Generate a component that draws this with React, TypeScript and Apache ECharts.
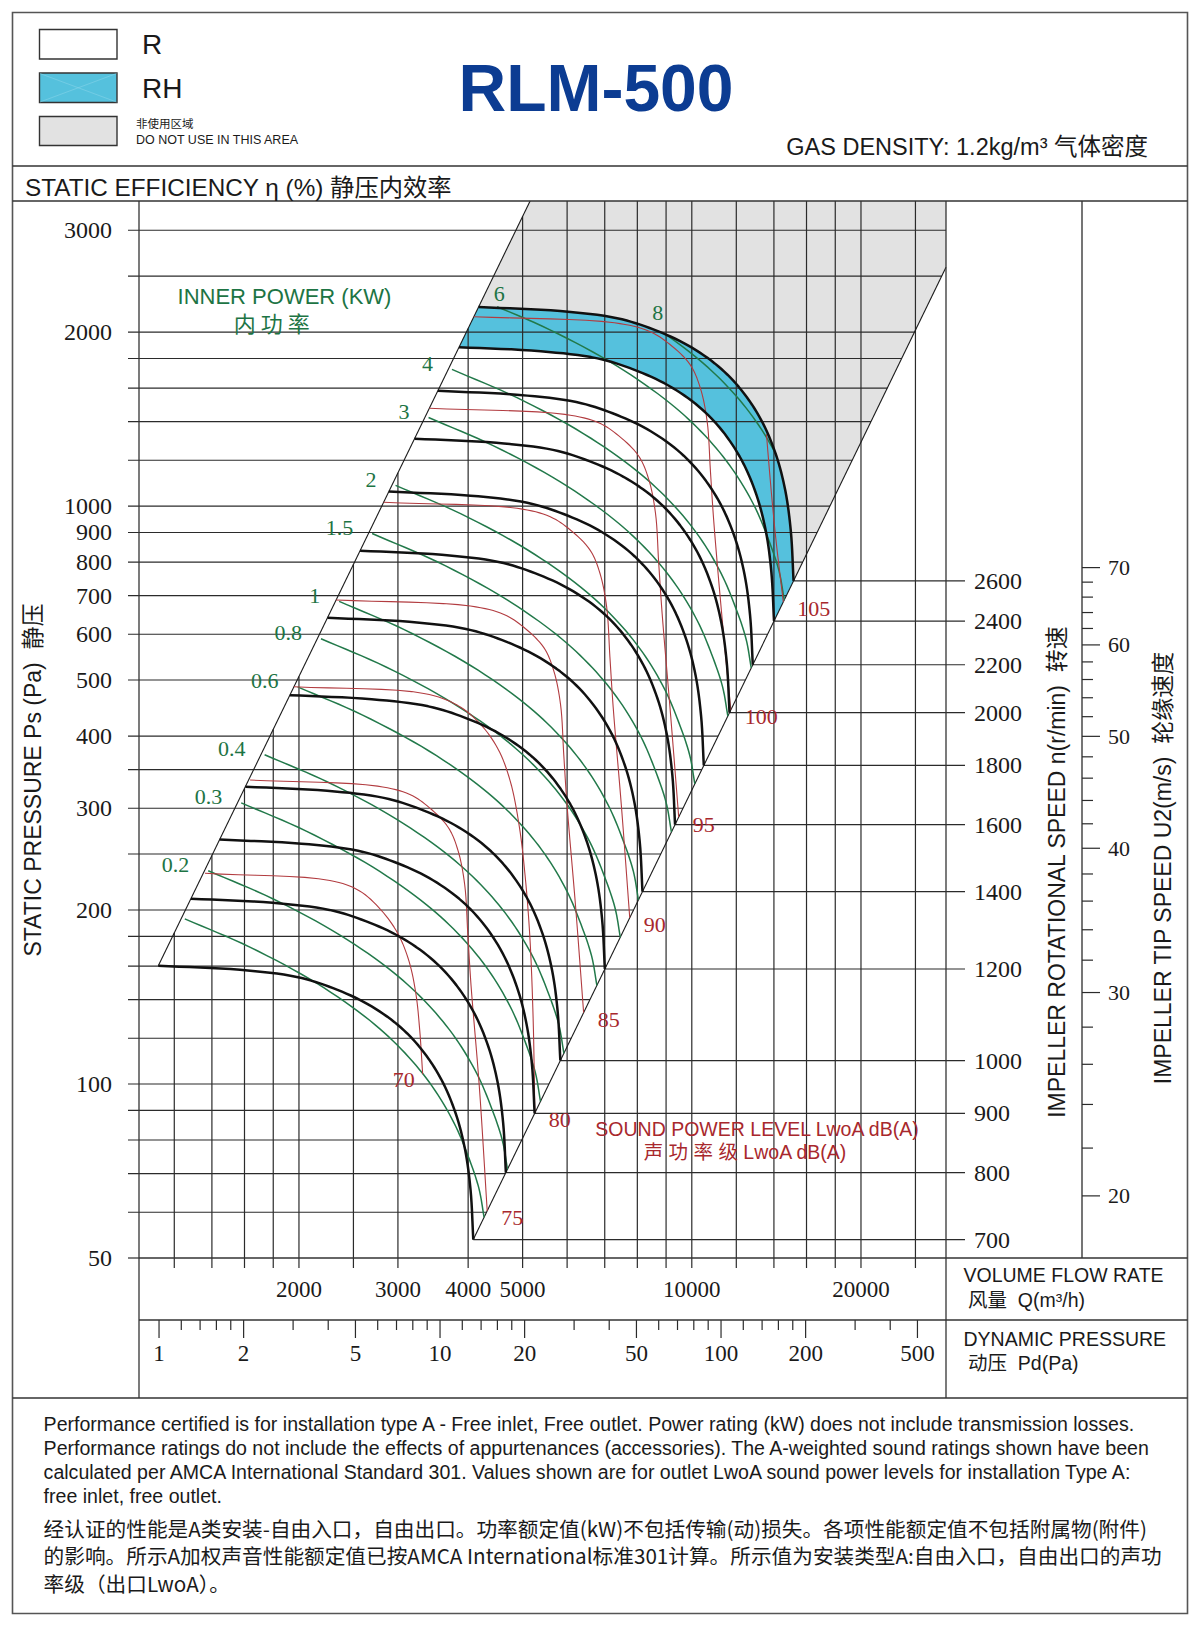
import React, { useEffect, useRef } from "react";
import * as echarts from "echarts";

// ---------- axis extents ----------
const flowRange = [1038.5, 28334]; // volume flow Q, m³/h
const pressureRange = [50, 3371]; // static pressure Ps, Pa
const dynamicRange = [0.8486, 631.8]; // dynamic pressure Pd, Pa
const tipSpeedRange = [17.67, 145.4]; // impeller tip speed U2, m/s

// ---------- grid lines and tick values ----------
const flowGrid = [1200, 1400, 1600, 1800, 2000, 2500, 3000, 4000, 5000, 6000, 7000, 8000, 9000, 10000, 12000, 14000, 16000, 18000, 20000, 25000];
const flowLabels = [2000, 3000, 4000, 5000, 10000, 20000];
const pressureGrid = [60, 70, 80, 90, 100, 120, 140, 160, 180, 200, 250, 300, 350, 400, 500, 600, 700, 800, 900, 1000, 1200, 1400, 1600, 1800, 2000, 2500, 3000];
const pressureLabels = [50, 100, 200, 300, 400, 500, 600, 700, 800, 900, 1000, 2000, 3000];
const dynamicTicks = [1, 1.2, 1.4, 1.6, 1.8, 2, 3, 4, 5, 6, 7, 8, 9, 10, 12, 14, 16, 18, 20, 30, 40, 50, 60, 70, 80, 90, 100, 120, 140, 160, 180, 200, 300, 400, 500];
const dynamicLabels = [1, 2, 5, 10, 20, 50, 100, 200, 500];
const tipSpeedTicks = [20, 22, 24, 26, 28, 30, 32, 34, 36, 38, 40, 42, 44, 46, 48, 50, 52, 54, 56, 58, 60, 62, 64, 66, 68, 70];
const tipSpeedLabels = [20, 30, 40, 50, 60, 70];

// ---------- fan curves (Q m³/h, Ps Pa) ----------
const referenceSpeed = 700; // r/min
const referenceCurve = [[1124, 160.2], [1571, 157.6], [1982, 153.2], [2300, 146.5], [2650, 137.5], [3000, 126.5], [3300, 115], [3580, 102], [3800, 89], [3950, 77], [4040, 65.5], [4085, 53.8]];
const speeds = [700, 800, 900, 1000, 1200, 1400, 1600, 1800, 2000, 2200, 2400, 2600];
const rhSpeeds = [2400, 2600];

// ---------- inner power lines ----------
const referencePower = 0.2; // kW
const referencePowerLine = [[1379, 233.9], [1800, 209], [2366, 181], [2944, 156], [3400, 137], [3800, 120], [4150, 104], [4400, 91], [4600, 80], [4700, 71.2]];
const powerLevels = [0.15, 0.2, 0.3, 0.4, 0.6, 0.8, 1, 1.5, 2, 3, 4, 6, 8];
const powerLabelled = [0.2, 0.3, 0.4, 0.6, 0.8, 1, 1.5, 2, 3, 4, 6, 8];

// ---------- sound power level lines LwoA dB(A) ----------
const soundLevels = [70, 75, 80, 85, 90, 95, 100, 105];
const sound70 = [[1361, 231.5], [2270, 225], [2560, 216], [2800, 200], [3000, 182], [3140, 163], [3230, 143], [3280, 124], [3320, 104]];
const sound75 = [[1637, 335.7], [2760, 327.6], [3150, 316.9], [3411, 300.8], [3690, 277.6], [3839, 253.1], [3944, 221.2], [3995, 181.3], [4047, 148.4], [4186, 99.4], [4325, 60.3]];
const sound80 = [[1959, 486.8], [3336, 474], [3830, 452], [4200, 420], [4520, 380], [4750, 335], [4930, 280], [5050, 230], [5150, 180], [5220, 130], [5257, 89.1]];
const sound85 = [[2329, 687.8], [4038, 671.3], [4632, 649.3], [5030, 616.3], [5455, 568.8], [5681, 518.6], [5841, 453.3], [5918, 371.4], [5998, 304], [6210, 203.6], [6420, 132.9]];
const sound90 = [[2829, 1014.9], [4887, 991], [5600, 958], [6080, 909], [6592, 839], [6864, 765], [7055, 669], [7150, 548], [7246, 449], [7500, 300], [7755, 193.9]];
const sound95 = [[3412, 1476], [5945, 1440.6], [6827, 1393.3], [7416, 1322.5], [8043, 1220.7], [8381, 1112.9], [8617, 972.7], [8732, 797], [8855, 652.4], [9165, 436.9], [9478, 289.6]];
const sound100 = [[4095, 2126], [7284, 2075], [8394, 2007], [9134, 1905], [9925, 1758], [10350, 1603], [10649, 1401], [10794, 1148], [10943, 939.7], [11338, 629.3], [11733, 443.8]];
const sound105 = [[4929, 3080], [8946, 3006], [10345, 2908], [11278, 2760], [12278, 2547], [12809, 2322], [13185, 2030], [13367, 1663], [13555, 1361], [14053, 911.7], [14548, 682.3]];
const soundLines = [sound70, sound75, sound80, sound85, sound90, sound95, sound100, sound105];

// ---------- notes ----------
const notesEn = [
  "Performance certified is for installation type A - Free inlet, Free outlet. Power rating (kW) does not include transmission losses.",
  "Performance ratings do not include the effects of appurtenances (accessories). The A-weighted sound ratings shown have been",
  "calculated per AMCA International Standard 301. Values shown are for outlet LwoA sound power levels for installation Type A:",
  "free inlet, free outlet.",
];
const notesCn = [
  "经认证的性能是A类安装-自由入口，自由出口。功率额定值(kW)不包括传输(动)损失。各项性能额定值不包括附属物(附件)",
  "的影响。所示A加权声音性能额定值已按AMCA International标准301计算。所示值为安装类型A:自由入口，自由出口的声功",
  "率级（出口LwoA）。",
];

// ---------- styling ----------
const SERIF = '"Liberation Serif", "Times New Roman", serif';
const SANS = '"Liberation Sans", Arial, "Noto Sans CJK SC", sans-serif';
const CJK = '"Noto Sans CJK SC", "Liberation Sans", sans-serif';
const INK = "#1a1a1a";
const GRID = "#2b2b2b";
const GREEN = "#22794a";
const GREEN_TEXT = "#1d7444";
const RED = "#b23c40";
const RED_TEXT = "#a8282d";
const CYAN = "#55c1dd";
const GREY = "#e2e2e2";
const TITLE_BLUE = "#0c3c92";

// fan laws: Q ∝ n, Ps ∝ n²
const fanScale = (curve: number[][], k: number) => curve.map(([q, p]) => [q * k, p * k * k]);
const speedCurves = speeds.map((n) => fanScale(referenceCurve, n / referenceSpeed));
// inner power ∝ n³
const powerLines = powerLevels.map((w) => fanScale(referencePowerLine, Math.cbrt(w / referencePower)));

// centripetal Catmull-Rom through pixel points
function spline(pts: number[][], steps = 8): number[][] {
  const n = pts.length;
  if (n < 3) return pts.map((p) => [p[0], p[1]]);
  const get = (i: number) => {
    if (i < 0) return [2 * pts[0][0] - pts[1][0], 2 * pts[0][1] - pts[1][1]];
    if (i >= n) return [2 * pts[n - 1][0] - pts[n - 2][0], 2 * pts[n - 1][1] - pts[n - 2][1]];
    return pts[i];
  };
  const nextT = (t: number, a: number[], b: number[]) => t + Math.max(1e-3, Math.sqrt(Math.hypot(b[0] - a[0], b[1] - a[1])));
  const out: number[][] = [];
  for (let i = 0; i < n - 1; i++) {
    const p0 = get(i - 1), p1 = get(i), p2 = get(i + 1), p3 = get(i + 2);
    const t0 = 0, t1 = nextT(t0, p0, p1), t2 = nextT(t1, p1, p2), t3 = nextT(t2, p2, p3);
    for (let s = 0; s < steps; s++) {
      const t = t1 + ((t2 - t1) * s) / steps;
      const mix = (a: number[], b: number[], ta: number, tb: number) => [
        ((tb - t) * a[0] + (t - ta) * b[0]) / (tb - ta),
        ((tb - t) * a[1] + (t - ta) * b[1]) / (tb - ta),
      ];
      const a1 = mix(p0, p1, t0, t1), a2 = mix(p1, p2, t1, t2), a3 = mix(p2, p3, t2, t3);
      const b1 = mix(a1, a2, t0, t2), b2 = mix(a2, a3, t1, t3);
      out.push(mix(b1, b2, t1, t2));
    }
  }
  out.push([pts[n - 1][0], pts[n - 1][1]]);
  return out;
}

// keep only the parts of a pixel polyline lying under the highest-speed curve
function clipUnder(line: number[][], top: number[][]): number[][][] {
  const x0 = top[0][0], x1 = top[top.length - 1][0];
  const topAt = (x: number) => {
    for (let i = 0; i < top.length - 1; i++) {
      const a = top[i], b = top[i + 1];
      if ((x >= a[0] && x <= b[0]) || (x <= a[0] && x >= b[0])) {
        const f = b[0] === a[0] ? 0 : (x - a[0]) / (b[0] - a[0]);
        return a[1] + f * (b[1] - a[1]);
      }
    }
    return top[top.length - 1][1];
  };
  const inside = (p: number[]) => (p[0] > x1 + 0.5 ? false : p[0] < x0 ? true : p[1] >= topAt(p[0]) - 0.3);
  const mid = (a: number[], b: number[]) => [(a[0] + b[0]) / 2, (a[1] + b[1]) / 2];
  const segs: number[][][] = [];
  let cur: number[][] = [];
  line.forEach((p, i) => {
    if (inside(p)) {
      if (!cur.length && i > 0) cur.push(mid(line[i - 1], p));
      cur.push(p);
    } else if (cur.length) {
      cur.push(mid(line[i - 1], p));
      segs.push(cur);
      cur = [];
    }
  });
  if (cur.length > 1) segs.push(cur);
  return segs;
}

function geometry(api: any) {
  const c = (q: number, p: number) => api.coord([q, p]);
  const speedPx = speedCurves.map((curve) => spline(curve.map(([q, p]) => c(q, p))));
  const top = speedPx[speedPx.length - 1];
  const low = speedPx[0];
  const s0 = low[0], e0 = low[low.length - 1], s1 = top[0], e1 = top[top.length - 1];
  const lb = c(flowRange[0], pressureRange[0]);
  const rt = c(flowRange[1], pressureRange[1]);
  const left = lb[0], bottomY = lb[1], right = rt[0], topY = rt[1];
  const xL = (y: number) => s0[0] + ((y - s0[1]) * (s1[0] - s0[0])) / (s1[1] - s0[1]);
  const yL = (x: number) => s0[1] + ((x - s0[0]) * (s1[1] - s0[1])) / (s1[0] - s0[0]);
  const xR = (y: number) => e0[0] + ((y - e0[1]) * (e1[0] - e0[0])) / (e1[1] - e0[1]);
  const yR = (x: number) => e0[1] + ((x - e0[0]) * (e1[1] - e0[1])) / (e1[0] - e0[0]);
  return { c, speedPx, top, s0, e0, s1, e1, left, right, topY, bottomY, xL, yL, xR, yR };
}

const seg = (x1: number, y1: number, x2: number, y2: number, stroke: string, lineWidth: number) => ({
  type: "line",
  shape: { x1, y1, x2, y2 },
  style: { stroke, lineWidth },
  silent: true,
});
const poly = (points: number[][], stroke: string, lineWidth: number) => ({
  type: "polyline",
  shape: { points },
  style: { stroke, lineWidth, fill: "none", lineJoin: "round" },
  silent: true,
});
const txt = (x: number, y: number, text: string, font: string, fill: string, align = "left", vAlign = "middle", extra: any = {}) => ({
  type: "text",
  x,
  y,
  ...extra,
  style: { text, font, fill, align, verticalAlign: vAlign, textAlign: align, textVerticalAlign: vAlign },
  silent: true,
});

function fillsLayer(_: any, api: any) {
  const g = geometry(api);
  const lowBand = g.speedPx[speeds.indexOf(rhSpeeds[0])];
  const topBand = g.speedPx[speeds.indexOf(rhSpeeds[1])];
  const grey = [...g.top, [g.right, g.yR(g.right)], [g.right, g.topY], [g.xL(g.topY), g.topY]];
  const band = [...topBand, ...lowBand.slice().reverse()];
  return {
    type: "group",
    children: [
      { type: "polygon", shape: { points: grey }, style: { fill: GREY }, silent: true },
      { type: "polygon", shape: { points: band }, style: { fill: CYAN }, silent: true },
    ],
  };
}

function gridLayer(_: any, api: any) {
  const g = geometry(api);
  const ch: any[] = [];
  const lw = 1.2;
  flowGrid.forEach((q) => {
    const x = g.c(q, 100)[0];
    const yTop = Math.max(g.topY, g.yL(x));
    if (yTop < g.bottomY) ch.push(seg(x, yTop, x, g.bottomY + 10, GRID, lw));
  });
  pressureGrid.forEach((p) => {
    const y = g.c(2000, p)[1];
    ch.push(seg(g.left - 11, y, Math.min(g.right, g.xR(y)), y, GRID, lw));
  });
  ch.push(seg(g.left - 11, g.bottomY, g.left, g.bottomY, GRID, lw));
  ch.push(seg(g.s0[0], g.s0[1], g.xL(g.topY), g.topY, INK, 1.1));
  ch.push(seg(g.e0[0], g.e0[1], g.right, g.yR(g.right), INK, 1.1));
  g.speedPx.forEach((curve) => {
    const e = curve[curve.length - 1];
    ch.push(seg(e[0], e[1], g.right + 19, e[1], GRID, lw));
  });
  return { type: "group", children: ch };
}

function powerLayer(_: any, api: any) {
  const g = geometry(api);
  const ch: any[] = [];
  powerLines.forEach((line) => {
    const px = spline(line.map(([q, p]) => g.c(q, p)));
    clipUnder(px, g.top).forEach((s) => ch.push(poly(s, GREEN, 1.5)));
  });
  return { type: "group", children: ch };
}

function soundLayer(_: any, api: any) {
  const g = geometry(api);
  const ch: any[] = [];
  soundLines.forEach((line) => {
    const px = spline(line.map(([q, p]) => g.c(q, p)));
    clipUnder(px, g.top).forEach((s) => ch.push(poly(s, RED, 1.1)));
  });
  return { type: "group", children: ch };
}

function speedLayer(_: any, api: any) {
  const g = geometry(api);
  return { type: "group", children: g.speedPx.map((px) => poly(px, "#111", 2.5)) };
}

function labelLayer(_: any, api: any) {
  const g = geometry(api);
  const ch: any[] = [];
  const numFont = `23px ${SERIF}`;
  pressureLabels.forEach((p) => ch.push(txt(g.left - 27, g.c(2000, p)[1], String(p), `24px ${SERIF}`, INK, "right")));
  flowLabels.forEach((q) => ch.push(txt(g.c(q, 100)[0], g.bottomY + 31, String(q), numFont, INK, "center")));
  g.speedPx.forEach((curve, i) => {
    const e = curve[curve.length - 1];
    ch.push(txt(g.right + 28, e[1], String(speeds[i]), `24px ${SERIF}`, INK, "left"));
  });
  powerLines.forEach((line, i) => {
    const w = powerLevels[i];
    if (!powerLabelled.includes(w)) return;
    const segs = clipUnder(spline(line.map(([q, p]) => g.c(q, p))), g.top);
    if (!segs.length) return;
    const a = segs[0][0];
    const label = String(w);
    if (w === 6) ch.push(txt(a[0] + 2, a[1] - 13, label, `22px ${SERIF}`, GREEN_TEXT, "center"));
    else if (w === 8) ch.push(txt(a[0] - 7, a[1] - 21, label, `22px ${SERIF}`, GREEN_TEXT, "center"));
    else ch.push(txt(a[0] - 19, a[1] - 6, label, `22px ${SERIF}`, GREEN_TEXT, "right"));
  });
  soundLines.forEach((line, i) => {
    const segs = clipUnder(spline(line.map(([q, p]) => g.c(q, p))), g.top);
    if (!segs.length) return;
    const last = segs[segs.length - 1];
    const e = last[last.length - 1];
    const label = String(soundLevels[i]);
    if (i === 0) ch.push(txt(e[0] - 8, e[1] + 5, label, `22px ${SERIF}`, RED_TEXT, "right"));
    else ch.push(txt(e[0] + 14, e[1] + 7, label, `22px ${SERIF}`, RED_TEXT, "left"));
  });
  return { type: "group", children: ch };
}

function tipSpeedLayer(_: any, api: any) {
  const axisX = 1082;
  const yTop = api.coord([2000, tipSpeedRange[1]])[1];
  const yBottom = api.coord([2000, tipSpeedRange[0]])[1];
  const ch: any[] = [seg(axisX, yTop, axisX, yBottom, GRID, 1.3)];
  tipSpeedTicks.forEach((u) => {
    const y = api.coord([2000, u])[1];
    const major = tipSpeedLabels.includes(u);
    ch.push(seg(axisX, y, axisX + (major ? 18 : 11), y, GRID, 1.2));
    if (major) ch.push(txt(axisX + 26, y, String(u), `22px ${SERIF}`, INK, "left"));
  });
  return { type: "group", children: ch };
}

function dynamicLayer(_: any, api: any) {
  const y0 = api.coord([10, 1])[1];
  const ch: any[] = [];
  dynamicTicks.forEach((v) => {
    const x = api.coord([v, 0.5])[0];
    const major = dynamicLabels.includes(v);
    ch.push(seg(x, y0, x, y0 + (major ? 18 : 10), GRID, 1.2));
    if (major) ch.push(txt(x, y0 + 33, String(v), `23px ${SERIF}`, INK, "center"));
  });
  return { type: "group", children: ch };
}

function measure(font: string, text: string) {
  const ctx = document.createElement("canvas").getContext("2d");
  if (!ctx) return 0;
  ctx.font = font;
  return ctx.measureText(text).width;
}

function buildOption() {
  const enBase = 17;
  const enW = measure(`${enBase}px "Liberation Sans"`, notesEn[0]);
  const enSize = enW > 0 ? (enBase * 1093) / enW : enBase;
  const cnBase = 20;
  const cnW = measure(`${cnBase}px "Noto Sans CJK SC", "Liberation Sans"`, notesCn[0]);
  const cnSize = cnW > 0 ? (cnBase * 1104) / cnW : cnBase;

  const L = (x1: number, y1: number, x2: number, y2: number, w = 1.3, c = "#333") => ({
    type: "line",
    shape: { x1, y1, x2, y2 },
    style: { stroke: c, lineWidth: w },
    z: 100,
    silent: true,
  });
  const T = (x: number, y: number, text: string, font: string, fill = INK, align = "left", extra: any = {}) => ({
    ...txt(x, y, text, font, fill, align, "middle", extra),
    z: 100,
  });

  const graphic: any[] = [
    { type: "rect", shape: { x: 12.5, y: 12.5, width: 1175, height: 1601 }, style: { fill: "none", stroke: "#555", lineWidth: 1.6 }, z: 100, silent: true },
    L(12.5, 166, 1187.5, 166),
    L(12.5, 201, 1187.5, 201),
    L(12.5, 1398, 1187.5, 1398),
    L(139, 201, 139, 1398),
    L(946, 201, 946, 1398),
    L(139, 1258, 1187.5, 1258),
    L(139, 1320, 1187.5, 1320),
    // legend
    { type: "rect", shape: { x: 39.5, y: 29.5, width: 77.5, height: 29.5 }, style: { fill: "#fff", stroke: "#333", lineWidth: 1.4 }, z: 100, silent: true },
    { type: "rect", shape: { x: 39.5, y: 73, width: 77.5, height: 29.5 }, style: { fill: CYAN, stroke: "#333", lineWidth: 1.4 }, z: 100, silent: true },
    L(40, 73.5, 116.5, 102, 0.5, "#8fd6ea"),
    L(40, 102, 116.5, 73.5, 0.5, "#8fd6ea"),
    { type: "rect", shape: { x: 39.5, y: 116.5, width: 77.5, height: 29 }, style: { fill: GREY, stroke: "#333", lineWidth: 1.4 }, z: 100, silent: true },
    T(142, 44, "R", `28px ${SANS}`),
    T(142, 88, "RH", `28px ${SANS}`),
    T(136, 123, "非使用区域", `11.5px ${CJK}`),
    T(136, 139.5, "DO NOT USE IN THIS AREA", `12.5px ${SANS}`),
    T(596, 88, "RLM-500", `bold 66px ${SANS}`, TITLE_BLUE, "center"),
    T(1148, 147, "GAS DENSITY: 1.2kg/m³ 气体密度", `23.5px ${SANS}`, INK, "right"),
    T(25, 187, "STATIC EFFICIENCY η (%) 静压内效率", `24.3px ${SANS}`),
    // axis titles
    T(33, 780, "STATIC PRESSURE Ps (Pa)  静压", `23px ${SANS}`, INK, "center", { rotation: Math.PI / 2 }),
    T(1057, 872, "IMPELLER ROTATIONAL SPEED n(r/min)  转速", `23px ${SANS}`, INK, "center", { rotation: Math.PI / 2 }),
    T(1163, 868, "IMPELLER TIP SPEED U2(m/s)  轮缘速度", `23px ${SANS}`, INK, "center", { rotation: Math.PI / 2 }),
    T(963.5, 1275, "VOLUME FLOW RATE", `19.5px ${SANS}`),
    T(968, 1300, "风量  Q(m³/h)", `19.5px ${SANS}`),
    T(963.5, 1339, "DYNAMIC PRESSURE", `19.5px ${SANS}`),
    T(968, 1363, "动压  Pd(Pa)", `19.5px ${SANS}`),
    // family captions
    T(284.5, 296, "INNER POWER (KW)", `22px ${SANS}`, GREEN_TEXT, "center"),
    T(271.7, 321.5, "内 功 率", `22px ${CJK}`, GREEN_TEXT, "center"),
    T(757, 1128.5, "SOUND POWER LEVEL LwoA dB(A)", `19.5px ${SANS}`, RED_TEXT, "center"),
    T(745, 1152, "声 功 率 级 LwoA dB(A)", `19.5px ${SANS}`, RED_TEXT, "center"),
  ];
  const enY = [1424, 1448, 1472, 1496];
  notesEn.forEach((line, i) => graphic.push(T(43.6, enY[i], line, `${enSize.toFixed(2)}px "Liberation Sans", Arial, sans-serif`)));
  const cnY = [1528, 1555, 1583];
  notesCn.forEach((line, i) => graphic.push(T(43.6, cnY[i], line, `${cnSize.toFixed(2)}px ${CJK}`)));

  const custom = (name: string, renderItem: any, z: number, extra: any = {}) => ({
    type: "custom",
    name,
    coordinateSystem: "cartesian2d",
    xAxisIndex: 0,
    yAxisIndex: 0,
    data: [[2000, 100]],
    renderItem,
    z,
    silent: true,
    clip: false,
    animation: false,
    ...extra,
  });

  return {
    animation: false,
    backgroundColor: "#ffffff",
    grid: [
      { left: 139, top: 201, width: 807, height: 1057, containLabel: false },
      { left: 139, top: 1320, width: 807, height: 78, containLabel: false },
    ],
    xAxis: [
      { type: "log", gridIndex: 0, min: flowRange[0], max: flowRange[1], show: false },
      { type: "log", gridIndex: 1, min: dynamicRange[0], max: dynamicRange[1], show: false },
    ],
    yAxis: [
      { type: "log", gridIndex: 0, min: pressureRange[0], max: pressureRange[1], show: false },
      { type: "log", gridIndex: 0, min: tipSpeedRange[0], max: tipSpeedRange[1], show: false },
      { type: "value", gridIndex: 1, min: 0, max: 1, show: false },
    ],
    series: [
      custom("regions", fillsLayer, 1),
      custom("grid", gridLayer, 2),
      custom("inner power", powerLayer, 3),
      custom("sound power level", soundLayer, 3),
      custom("rotational speed", speedLayer, 4),
      custom("labels", labelLayer, 5),
      custom("tip speed", tipSpeedLayer, 5, { yAxisIndex: 1, data: [[2000, 30]] }),
      custom("dynamic pressure", dynamicLayer, 5, { xAxisIndex: 1, yAxisIndex: 2, data: [[10, 0.5]] }),
    ],
    graphic,
  };
}

export default function App() {
  const ref = useRef<HTMLDivElement>(null);
  useEffect(() => {
    document.body.style.margin = "0";
    const el = ref.current;
    if (!el) return;
    const chart = echarts.init(el, null, { renderer: "svg", width: 1200, height: 1626 });
    chart.setOption(buildOption() as any);
    return () => chart.dispose();
  }, []);
  return <div ref={ref} style={{ position: "absolute", left: 0, top: 0, width: 1200, height: 1626, background: "#fff" }} />;
}
